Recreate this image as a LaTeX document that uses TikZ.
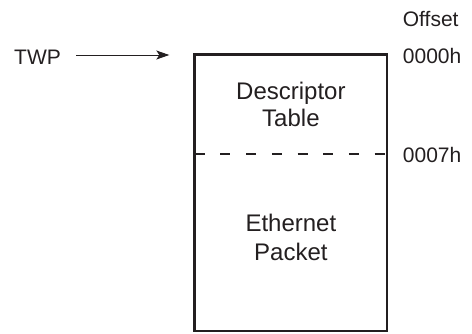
\documentclass[tikz,border=0pt]{standalone}
\usepackage{fontspec}
\setmainfont{Liberation Sans}
\usetikzlibrary{arrows.meta}
\definecolor{ink}{HTML}{231F20}
\tikzset{
  boxtext/.style={font=\fontsize{24}{30}\selectfont, text=ink, align=center, inner sep=0pt, anchor=base},
  lbl/.style={font=\fontsize{21}{25}\selectfont, text=ink, anchor=base west, inner sep=0pt},
  frame/.style={draw=ink, line width=2.7pt},
  divider/.style={draw=ink, line width=2.3pt, dash pattern=on 10pt off 15.7pt},
  pointer/.style={draw=ink, line width=1pt, -{Stealth[length=13pt,width=9pt,inset=3pt]}}
}
\begin{document}
\begin{tikzpicture}[x=1pt,y=-1pt]
\useasboundingbox (0,0) rectangle (472,333);
\path[frame] (194.7,54.5) rectangle (387,331);
\coordinate (dl) at (194.7,154);
\coordinate (dr) at (387,154);
\path[divider] (dl) -- (dr);
\node[boxtext] (desc) at (290.9,99.3) {Descriptor};
\node[boxtext] (tab) at (290.9,126.7) {Table};
\node[boxtext] (eth) at (290.9,231) {Ethernet};
\node[boxtext] (pkt) at (290.9,260) {Packet};
\node[lbl] (off) at (402.7,26) {Offset};
\node[lbl] (o0) at (402.7,63.5) {0000h};
\node[lbl] (o7) at (402.7,162.7) {0007h};
\node[lbl] (twp) at (14,64) {TWP};
\coordinate (as) at (76,55);
\coordinate (ae) at (169.3,55);
\path[pointer] (as) -- (ae);
\end{tikzpicture}
\end{document}
